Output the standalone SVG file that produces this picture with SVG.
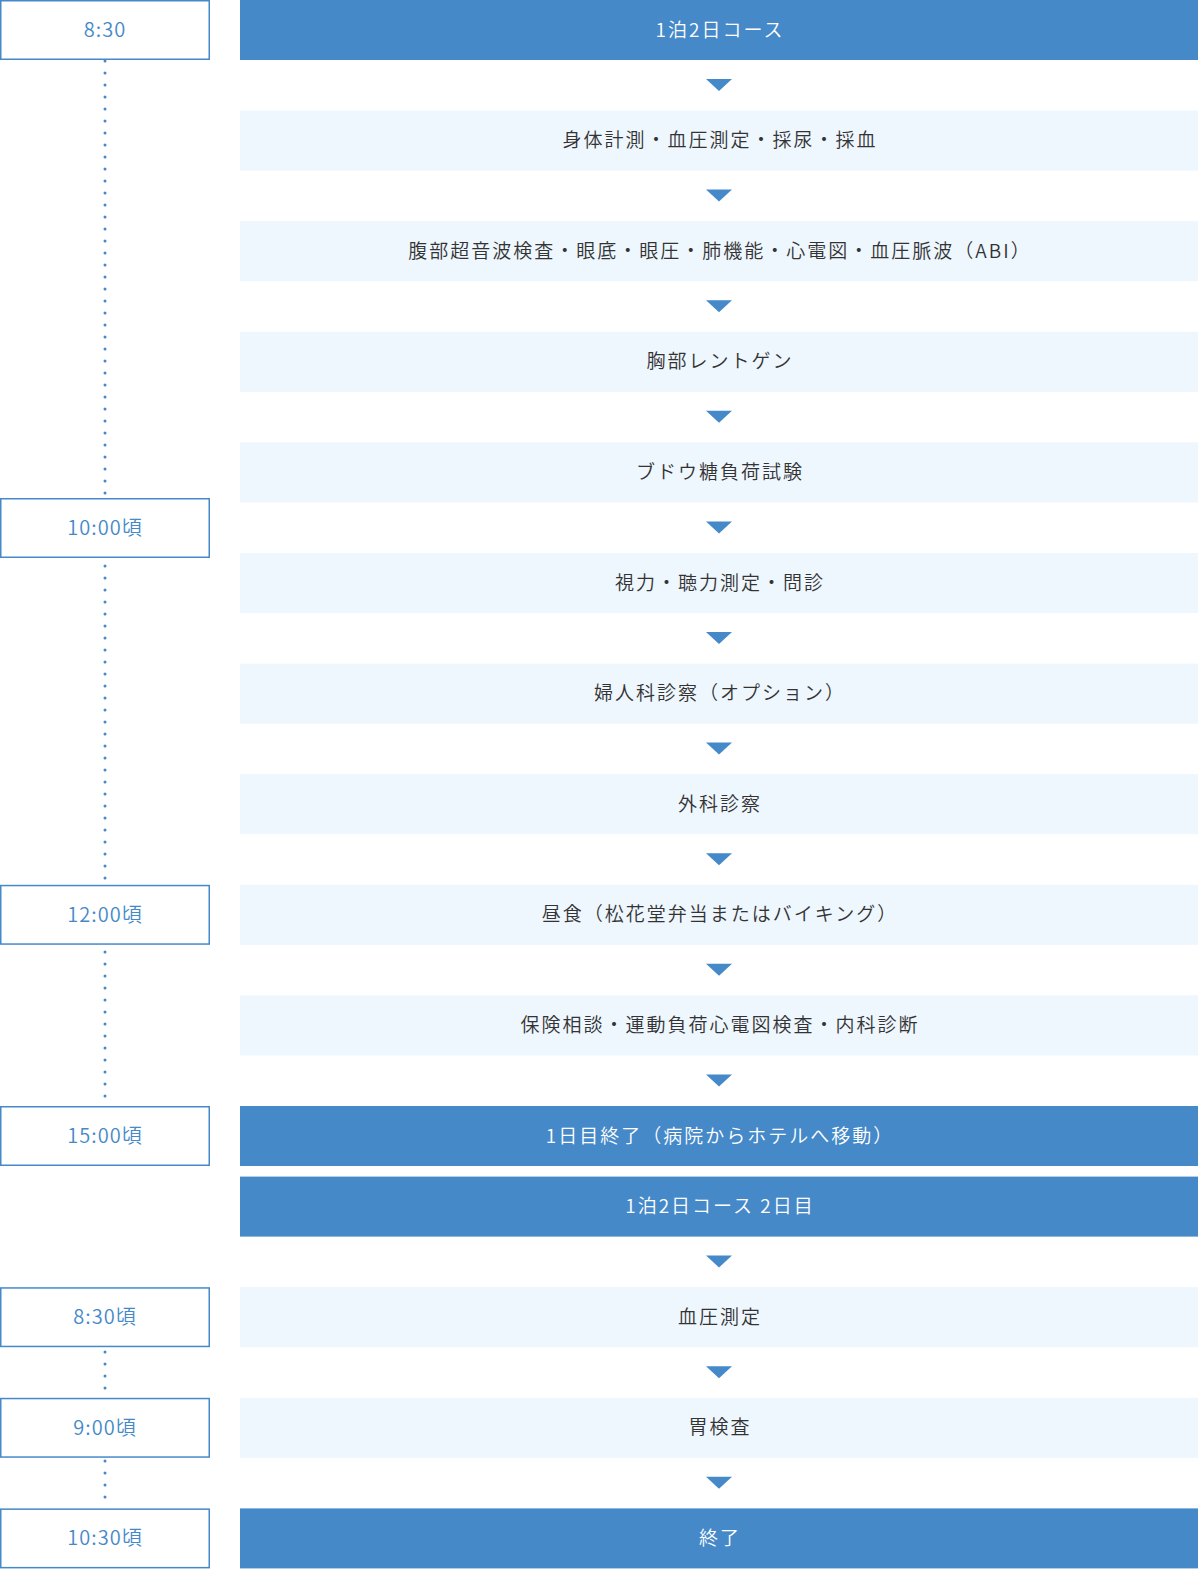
<svg xmlns="http://www.w3.org/2000/svg" width="1200" height="1570" viewBox="0 0 1200 1570">
<style>
.tb{fill:#fff;stroke:#4589c9;stroke-width:1.5}
.tt{fill:#4589c9;font-family:"Noto Sans CJK JP","Noto Sans",sans-serif;font-size:20px;font-weight:350;letter-spacing:1px;text-anchor:middle}
.lb{fill:#eef6fe}
.db{fill:#4589c9}
.lt{fill:#333;font-family:"Noto Sans CJK JP","Noto Sans",sans-serif;font-size:19px;font-weight:350;letter-spacing:2px;text-anchor:middle}
.dt{fill:#fff;font-family:"Noto Sans CJK JP","Noto Sans",sans-serif;font-size:19px;font-weight:350;letter-spacing:2px;text-anchor:middle}
.dot{stroke:#4589c9;stroke-width:3;stroke-linecap:round;stroke-dasharray:0 12;fill:none}
.ar{fill:#4589c9}
</style>
<g id="connectors">
<line class="dot" x1="105" y1="61" x2="105" y2="494"/>
<line class="dot" x1="105" y1="566" x2="105" y2="880"/>
<line class="dot" x1="105" y1="952" x2="105" y2="1102"/>
<line class="dot" x1="105" y1="1352" x2="105" y2="1390"/>
<line class="dot" x1="105" y1="1461" x2="105" y2="1506"/>
<polygon class="ar" points="706,79 732,79 719,91"/>
<polygon class="ar" points="706,189.6 732,189.6 719,201.6"/>
<polygon class="ar" points="706,300.2 732,300.2 719,312.2"/>
<polygon class="ar" points="706,410.8 732,410.8 719,422.8"/>
<polygon class="ar" points="706,521.4 732,521.4 719,533.4"/>
<polygon class="ar" points="706,632 732,632 719,644"/>
<polygon class="ar" points="706,742.6 732,742.6 719,754.6"/>
<polygon class="ar" points="706,853.2 732,853.2 719,865.2"/>
<polygon class="ar" points="706,963.8 732,963.8 719,975.8"/>
<polygon class="ar" points="706,1074.4 732,1074.4 719,1086.4"/>
<polygon class="ar" points="706,1255.6 732,1255.6 719,1267.6"/>
<polygon class="ar" points="706,1366.2 732,1366.2 719,1378.2"/>
<polygon class="ar" points="706,1476.8 732,1476.8 719,1488.8"/>
</g>
<g id="t0"><rect class="tb" x="0.75" y="0.75" width="208.5" height="58.5"/><text class="tt" x="105" y="37">8:30</text></g>
<g id="t1"><rect class="tb" x="0.75" y="498.75" width="208.5" height="58.5"/><text class="tt" x="105" y="535">10:00頃</text></g>
<g id="t2"><rect class="tb" x="0.75" y="885.55" width="208.5" height="58.5"/><text class="tt" x="105" y="922">12:00頃</text></g>
<g id="t3"><rect class="tb" x="0.75" y="1106.75" width="208.5" height="58.5"/><text class="tt" x="105" y="1143">15:00頃</text></g>
<g id="t4"><rect class="tb" x="0.75" y="1287.95" width="208.5" height="58.5"/><text class="tt" x="105" y="1324">8:30頃</text></g>
<g id="t5"><rect class="tb" x="0.75" y="1398.55" width="208.5" height="58.5"/><text class="tt" x="105" y="1435">9:00頃</text></g>
<g id="t6"><rect class="tb" x="0.75" y="1509.15" width="208.5" height="58.5"/><text class="tt" x="105" y="1545">10:30頃</text></g>
<g id="s0"><rect class="db" x="240" y="0" width="958" height="60"/><text class="dt" x="720" y="36.5">1泊2日コース</text></g>
<g id="s1"><rect class="lb" x="240" y="110.6" width="958" height="60"/><text class="lt" x="720" y="147">身体計測・血圧測定・採尿・採血</text></g>
<g id="s2"><rect class="lb" x="240" y="221.2" width="958" height="60"/><text class="lt" x="720" y="257.7">腹部超音波検査・眼底・眼圧・肺機能・心電図・血圧脈波（ABI）</text></g>
<g id="s3"><rect class="lb" x="240" y="331.8" width="958" height="60"/><text class="lt" x="720" y="368.3">胸部レントゲン</text></g>
<g id="s4"><rect class="lb" x="240" y="442.4" width="958" height="60"/><text class="lt" x="720" y="478.9">ブドウ糖負荷試験</text></g>
<g id="s5"><rect class="lb" x="240" y="553" width="958" height="60"/><text class="lt" x="720" y="589.5">視力・聴力測定・問診</text></g>
<g id="s6"><rect class="lb" x="240" y="663.6" width="958" height="60"/><text class="lt" x="720" y="700.1">婦人科診察（オプション）</text></g>
<g id="s7"><rect class="lb" x="240" y="774.2" width="958" height="60"/><text class="lt" x="720" y="810.7">外科診察</text></g>
<g id="s8"><rect class="lb" x="240" y="884.8" width="958" height="60"/><text class="lt" x="720" y="921.3">昼食（松花堂弁当またはバイキング）</text></g>
<g id="s9"><rect class="lb" x="240" y="995.4" width="958" height="60"/><text class="lt" x="720" y="1031.9">保険相談・運動負荷心電図検査・内科診断</text></g>
<g id="s10"><rect class="db" x="240" y="1106" width="958" height="60"/><text class="dt" x="720" y="1142.5">1日目終了（病院からホテルへ移動）</text></g>
<g id="s11"><rect class="db" x="240" y="1176.6" width="958" height="60"/><text class="dt" x="720" y="1213.1">1泊2日コース 2日目</text></g>
<g id="s12"><rect class="lb" x="240" y="1287.2" width="958" height="60"/><text class="lt" x="720" y="1323.7">血圧測定</text></g>
<g id="s13"><rect class="lb" x="240" y="1397.8" width="958" height="60"/><text class="lt" x="720" y="1434.3">胃検査</text></g>
<g id="s14"><rect class="db" x="240" y="1508.4" width="958" height="60"/><text class="dt" x="720" y="1544.9">終了</text></g>
</svg>
